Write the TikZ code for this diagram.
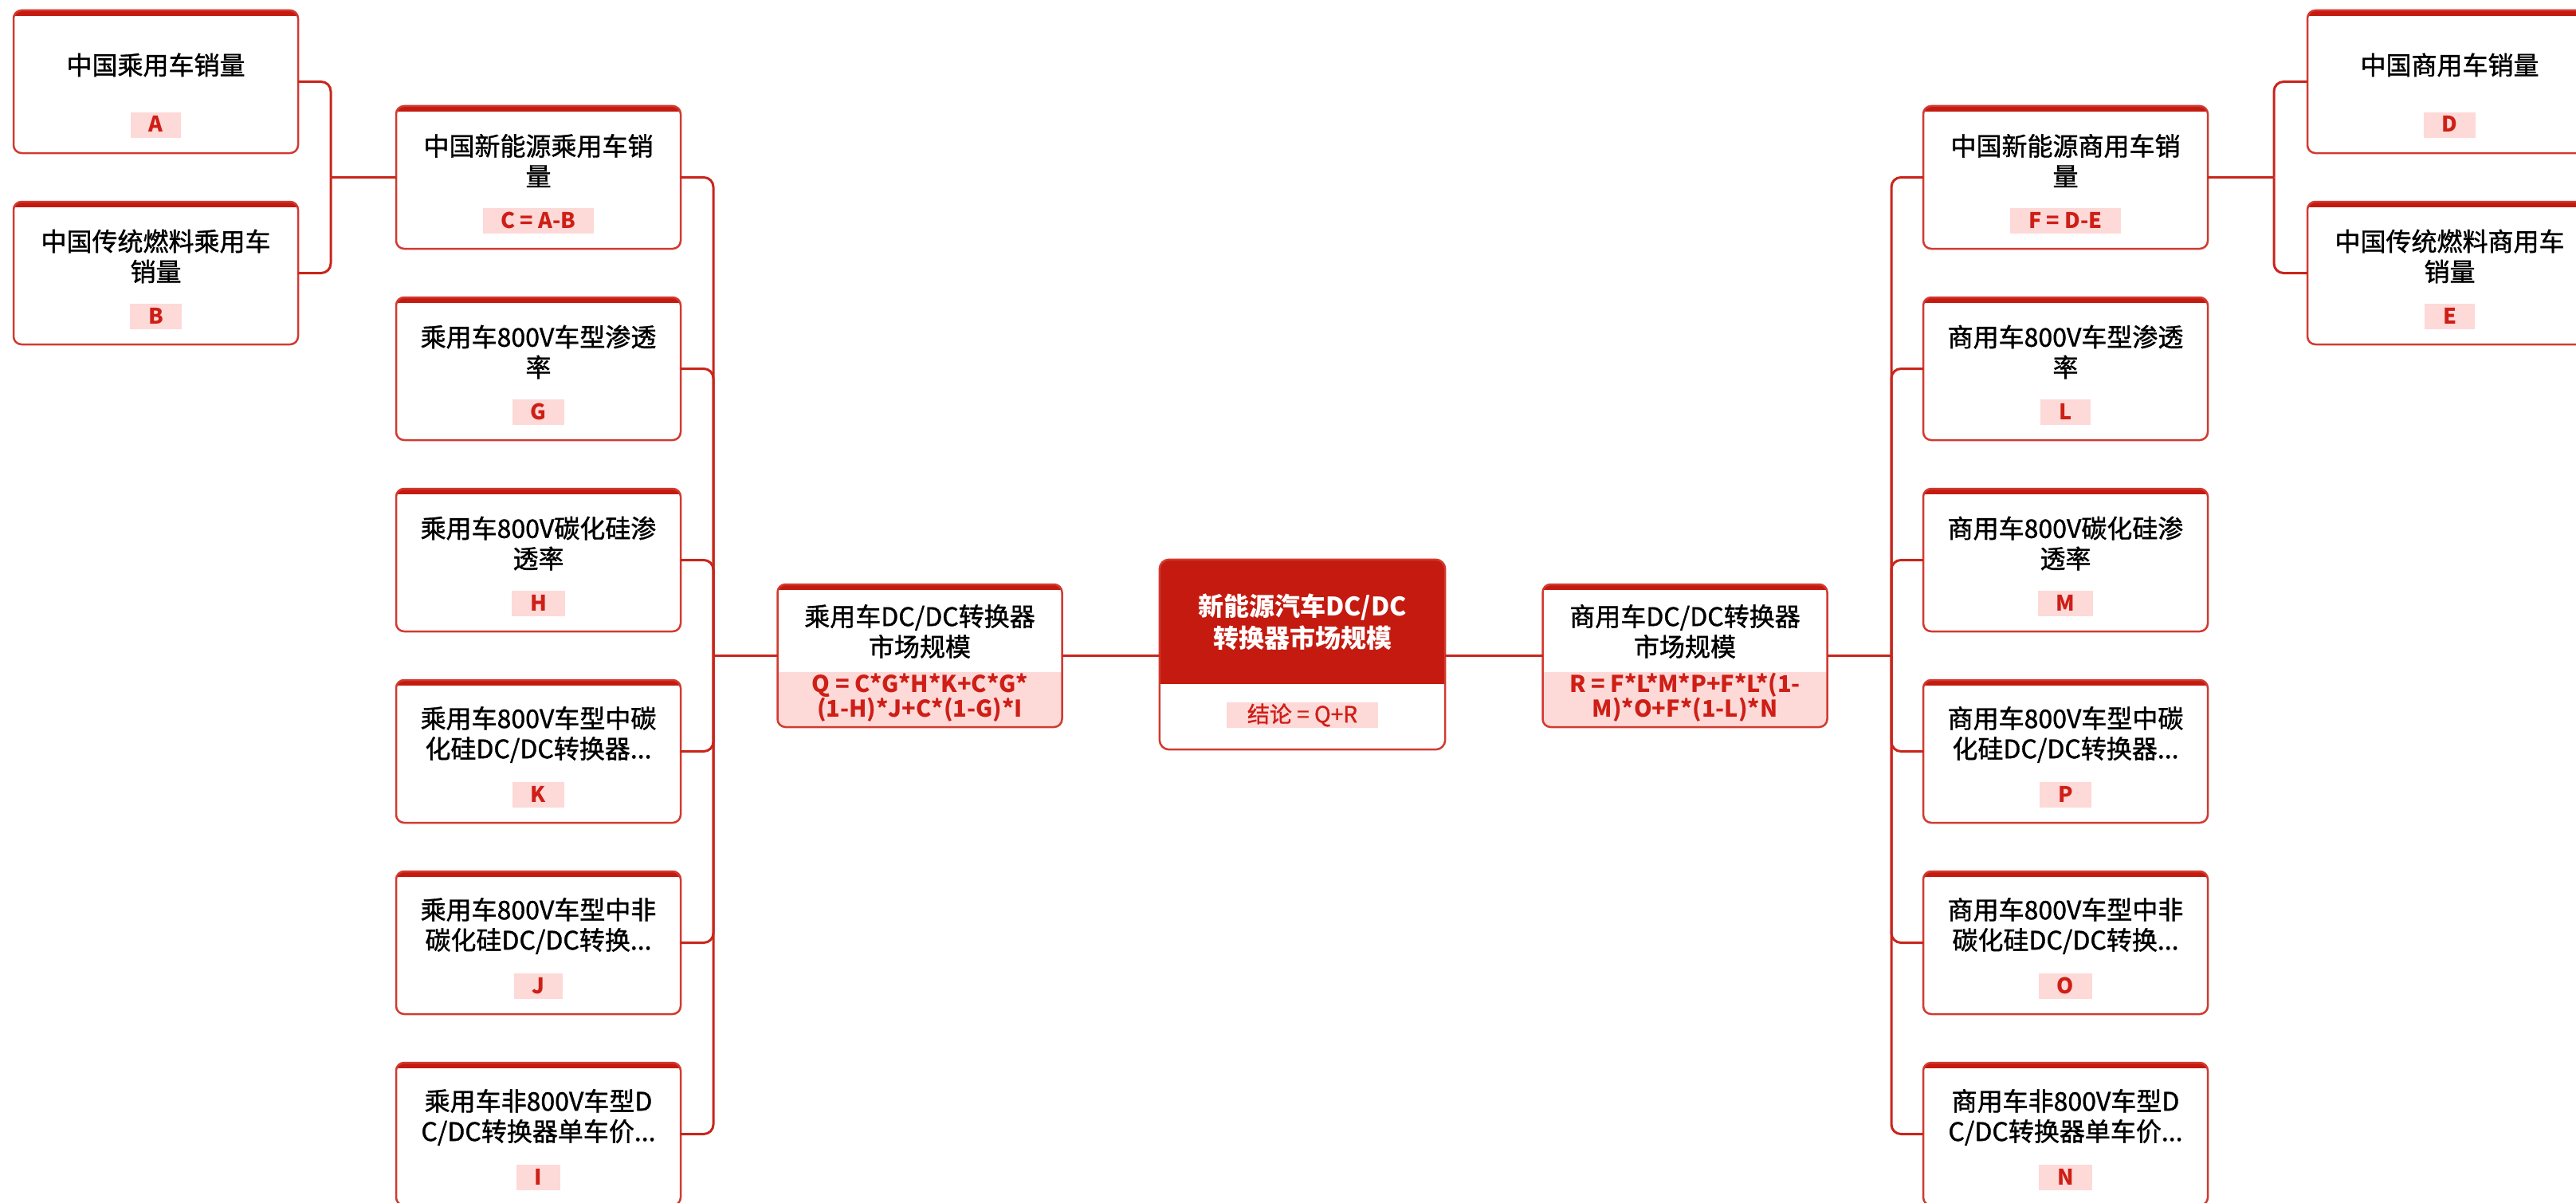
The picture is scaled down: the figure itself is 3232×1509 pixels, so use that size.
\documentclass[tikz,border=0pt]{standalone}
\usepackage{fontspec}
\setmainfont{Noto Sans CJK SC}
\newfontfamily\medfont{Noto Sans CJK SC}[RawFeature={embolden=1.2}]
\definecolor{topred}{HTML}{C41A10}
\definecolor{boxred}{HTML}{D23A30}
\definecolor{linkred}{HTML}{C8261C}
\definecolor{labpink}{HTML}{FDD9D8}
\definecolor{labred}{HTML}{CE1F17}
\tikzset{
  boxshape/.style={rectangle, minimum width=357pt, minimum height=179pt, inner sep=0pt, outer sep=0pt},
  boxline/.style={draw=boxred, line width=2.5pt, rounded corners=10pt},
  conn/.style={draw=linkred, line width=3pt, rounded corners=12pt},
  ttl/.style={text=black, font=\medfont\fontsize{32}{38}\selectfont, align=center, inner sep=0pt},
  lab/.style={fill=labpink, text=labred, font=\fontsize{27}{30}\selectfont\bfseries, inner xsep=23pt, inner ysep=5pt, text height=20pt, text depth=2pt},
  fml/.style={text=labred, font=\fontsize{29}{30}\selectfont\bfseries, align=center, inner sep=0pt},
  ctitle/.style={text=white, font=\fontsize{32}{40}\selectfont\bfseries, align=center, inner sep=0pt},
}
\newcommand\leafbox[5]{%
  \node[boxshape] (#1) at (#2,#3) {};
  \begin{scope}
    \clip[rounded corners=10pt] (#1.south west) rectangle (#1.north east);
    \fill[topred] (#1.north west) rectangle ([yshift=-7pt]#1.north east);
  \end{scope}
  \draw[boxline] (#1.south west) rectangle (#1.north east);
  \node[ttl] (#1-t) at ([yshift=-68.5pt]#1.north) {#4};
  \node[lab] (#1-l) at ([yshift=-144pt]#1.north) {#5};
}
\newcommand\fmlbox[3]{%
  \node[boxshape] (#1) at (#2,#3) {};
  \begin{scope}
    \clip[rounded corners=10pt] (#1.south west) rectangle (#1.north east);
    \fill[labpink] ([yshift=69pt]#1.south west) rectangle (#1.south east);
    \fill[topred] (#1.north west) rectangle ([yshift=-7pt]#1.north east);
  \end{scope}
  \draw[boxline] (#1.south west) rectangle (#1.north east);
}
\begin{document}
\begin{tikzpicture}[x=1pt,y=-1pt]
\useasboundingbox[fill=white] (0,0) rectangle (3232,1509);

% ---------- left side ----------
\leafbox{A}{195.5}{102.5}{中国乘用车销量}{A}
\leafbox{B}{195.5}{342.5}{中国传统燃料乘用车\\销量}{B}
\leafbox{C}{675.5}{222.5}{中国新能源乘用车销\\量}{C = A-B}
\leafbox{G}{675.5}{462.5}{乘用车800V车型渗透\\率}{G}
\leafbox{H}{675.5}{702.5}{乘用车800V碳化硅渗\\透率}{H}
\leafbox{K}{675.5}{942.5}{乘用车800V车型中碳\\化硅DC/DC转换器...}{K}
\leafbox{J}{675.5}{1182.5}{乘用车800V车型中非\\碳化硅DC/DC转换...}{J}
\leafbox{I}{675.5}{1422.5}{乘用车非800V车型D\\C/DC转换器单车价...}{I}

\fmlbox{Q}{1154}{822.5}
\node[ttl] (Q-t) at ([yshift=-59pt]Q.north) {乘用车DC/DC转换器\\市场规模};
\node[fml] (Q-f) at ([yshift=-142pt]Q.north) {Q = C*G*H*K+C*G*\\(1-H)*J+C*(1-G)*I};

% ---------- right side ----------
\leafbox{D}{3073.5}{102.5}{中国商用车销量}{D}
\leafbox{E}{3073.5}{342.5}{中国传统燃料商用车\\销量}{E}
\leafbox{F}{2591.5}{222.5}{中国新能源商用车销\\量}{F = D-E}
\leafbox{L}{2591.5}{462.5}{商用车800V车型渗透\\率}{L}
\leafbox{M}{2591.5}{702.5}{商用车800V碳化硅渗\\透率}{M}
\leafbox{P}{2591.5}{942.5}{商用车800V车型中碳\\化硅DC/DC转换器...}{P}
\leafbox{O}{2591.5}{1182.5}{商用车800V车型中非\\碳化硅DC/DC转换...}{O}
\leafbox{N}{2591.5}{1422.5}{商用车非800V车型D\\C/DC转换器单车价...}{N}

\fmlbox{R}{2114}{822.5}
\node[ttl] (R-t) at ([yshift=-59pt]R.north) {商用车DC/DC转换器\\市场规模};
\node[fml] (R-f) at ([yshift=-142pt]R.north) {R = F*L*M*P+F*L*(1-\\M)*O+F*(1-L)*N};

% ---------- center ----------
\node[rectangle, minimum width=358pt, minimum height=238pt, inner sep=0pt] (CT) at (1634,821) {};
\begin{scope}
  \clip[rounded corners=12pt] (CT.south west) rectangle (CT.north east);
  \fill[topred] (CT.north west) rectangle ([yshift=82pt]CT.south east);
\end{scope}
\draw[boxline, rounded corners=12pt] (CT.south west) rectangle (CT.north east);
\node[ctitle] (CT-t) at ([yshift=-78pt]CT.north) {新能源汽车DC/DC\\转换器市场规模};
\node[lab, font=\medfont\fontsize{28}{30}\selectfont, inner xsep=26pt] (CT-l) at ([yshift=43pt]CT.south) {结论 = Q+R};

% ---------- connectors ----------
\coordinate (jAB) at (415,222.5);
\coordinate (jL) at (895,822.5);
\coordinate (jR) at (2373,822.5);
\coordinate (jDE) at (2853,222.5);

\draw[conn] (CT.west |- Q.east) -- (Q.east);
\draw[conn] (CT.east |- R.west) -- (R.west);

\draw[conn] (Q.west) -- (jL);
\foreach \n in {C,G,H,K,J,I} \draw[conn] (jL) |- (\n.east);
\draw[conn] (C.west) -- (jAB);
\foreach \n in {A,B} \draw[conn] (jAB) |- (\n.east);

\draw[conn] (R.east) -- (jR);
\foreach \n in {F,L,M,P,O,N} \draw[conn] (jR) |- (\n.west);
\draw[conn] (F.east) -- (jDE);
\foreach \n in {D,E} \draw[conn] (jDE) |- (\n.west);
\end{tikzpicture}
\end{document}
